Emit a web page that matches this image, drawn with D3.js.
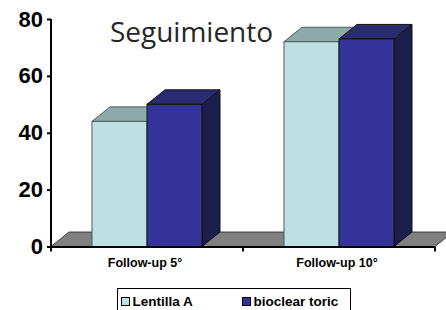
<!DOCTYPE html>
<html><head><meta charset="utf-8">
<script src="https://cdn.jsdelivr.net/npm/d3@7/dist/d3.min.js"></script>
<style>body{margin:0;background:#fff}svg{display:block}</style>
</head><body>
<script>
const categories = ["Follow-up 5°", "Follow-up 10°"];
const seriesNames = ["Lentilla A", "bioclear toric"];
const lentillaA = [44, 72];
const bioclearToric = [50, 73];
const yTicks = [0, 20, 40, 60, 80];
const titleText = "Seguimiento";

const W = 446, H = 310;
const svg = d3.select("body").append("svg").attr("width", W).attr("height", H);

const x0 = 51, x1 = 435, yBase = 246.5, yTop = 19;
const dx = 18, dy = 14.5;

const y = d3.scaleLinear().domain([0, 80]).range([yBase, yTop]);
const xCat = d3.scaleBand().domain(categories).range([x0, x1]).padding(0);
const xSer = d3.scaleBand().domain(seriesNames).range([0, xCat.bandwidth()]).paddingInner(0).paddingOuter(0.745);

const styles = {
  "Lentilla A": {front: "#BEE0E3", top: "#8EABAB", side: "#6E8A8C", stroke: "#4d5a5a"},
  "bioclear toric": {front: "#333399", top: "#2B2B70", side: "#1E1E4C", stroke: "#111"}
};

// floor
svg.append("path")
  .attr("d", `M${x0},${yBase} L${x1},${yBase} L${x1+dx},${yBase-dy} L${x0+dx},${yBase-dy} Z`)
  .attr("fill", "#808080").attr("stroke", "#222").attr("stroke-width", 0.8);

const series = [
  {name: seriesNames[0], values: lentillaA},
  {name: seriesNames[1], values: bioclearToric}
];

categories.forEach((c, ci) => {
  series.forEach(s => {
    const st = styles[s.name];
    const bx = xCat(c) + xSer(s.name);
    const w = xSer.bandwidth();
    const yt = y(s.values[ci]);
    const g = svg.append("g");
    g.append("path")
      .attr("d", `M${bx+w},${yt} L${bx+w+dx},${yt-dy} L${bx+w+dx},${yBase-dy} L${bx+w},${yBase} Z`)
      .attr("fill", st.side).attr("stroke", st.stroke).attr("stroke-width", 1);
    g.append("path")
      .attr("d", `M${bx},${yt} L${bx+dx},${yt-dy} L${bx+w+dx},${yt-dy} L${bx+w},${yt} Z`)
      .attr("fill", st.top).attr("stroke", st.stroke).attr("stroke-width", 1);
    g.append("rect")
      .attr("x", bx).attr("y", yt).attr("width", w).attr("height", yBase - yt)
      .attr("fill", st.front).attr("stroke", st.stroke).attr("stroke-width", 1);
  });
});

// y axis
const yAxis = d3.axisLeft(y).tickValues(yTicks).tickSize(4).tickSizeOuter(0).tickPadding(4);
const ya = svg.append("g").attr("transform", `translate(${x0},0)`).call(yAxis);
ya.select(".domain").attr("stroke", "#000").attr("stroke-width", 2)
  .attr("d", `M0,${yTop} V${yBase+0.5}`);
ya.selectAll(".tick line").attr("stroke", "#000").attr("stroke-width", 2);
ya.selectAll(".tick text").attr("fill", "#000")
  .style("font-family", "Liberation Sans, Arial, sans-serif")
  .style("font-size", "22px").style("font-weight", "bold");

// x axis
const boundaries = [x0].concat(categories.map(c => xCat(c) + xCat.bandwidth()));
const xa = svg.append("g");
xa.append("line").attr("x1", x0 - 1).attr("x2", x1).attr("y1", yBase + 0.5).attr("y2", yBase + 0.5)
  .attr("stroke", "#000").attr("stroke-width", 2);
xa.selectAll("line.t").data(boundaries).enter().append("line")
  .attr("x1", d => d).attr("x2", d => d).attr("y1", yBase).attr("y2", yBase + 5)
  .attr("stroke", "#000").attr("stroke-width", 2);
xa.selectAll("text").data(categories).enter().append("text")
  .attr("x", d => xCat(d) + xCat.bandwidth() / 2 - 2).attr("y", 267)
  .attr("text-anchor", "middle")
  .style("font-family", "Liberation Sans, Arial, sans-serif")
  .style("font-size", "12.5px").style("font-weight", "bold")
  .text(d => d);

// title
svg.append("text").attr("x", 191.5).attr("y", 41.5).attr("text-anchor", "middle")
  .style("font-family", "Open Sans, sans-serif").style("font-size", "28px")
  .attr("fill", "#262626").text(titleText);

// legend
const lg = svg.append("g");
lg.append("rect").attr("x", 117.5).attr("y", 288.5).attr("width", 233).attr("height", 30)
  .attr("fill", "none").attr("stroke", "#000").attr("stroke-width", 1);
const legX = [121.5, 242.5];
seriesNames.forEach((n, i) => {
  lg.append("rect").attr("x", legX[i]).attr("y", 297.5).attr("width", 8).attr("height", 8)
    .attr("fill", styles[n].front).attr("stroke", "#000").attr("stroke-width", 1);
  lg.append("text").attr("x", legX[i] + 11).attr("y", 306)
    .style("font-family", "Liberation Sans, Arial, sans-serif")
    .style("font-size", "13.5px").style("font-weight", "bold").text(n);
});
</script>
</body></html>
